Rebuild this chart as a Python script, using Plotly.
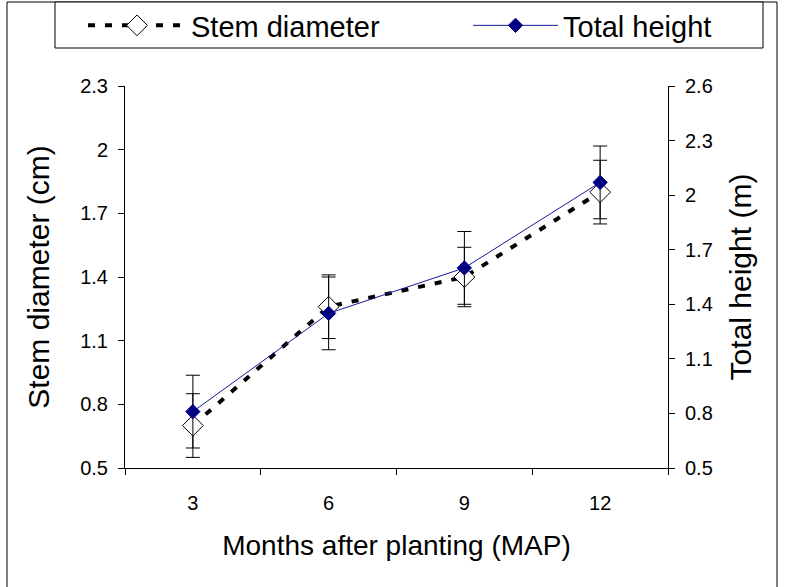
import plotly.graph_objects as go

# ---- data ----
months = ["3", "6", "9", "12"]
stem_diameter = [0.70, 1.26, 1.40, 1.80]        # cm
stem_diameter_err = [0.15, 0.15, 0.14, 0.15]
total_height = [0.81, 1.35, 1.60, 2.07]         # m
total_height_err = [0.20, 0.20, 0.20, 0.20]
left_ticks = [0.5, 0.8, 1.1, 1.4, 1.7, 2.0, 2.3]
left_ticktext = ["0.5", "0.8", "1.1", "1.4", "1.7", "2", "2.3"]
right_ticks = [0.5, 0.8, 1.1, 1.4, 1.7, 2.0, 2.3, 2.6]
right_ticktext = ["0.5", "0.8", "1.1", "1.4", "1.7", "2", "2.3", "2.6"]

W, H = 787, 587
L, R, T, B = 125, 119, 86, 119
pw, ph = W - L - R, H - T - B

FONT = "Liberation Sans, Arial, sans-serif"

fig = go.Figure()
fig.add_trace(go.Scatter(
    x=months, y=stem_diameter, name="Stem diameter", yaxis="y",
    mode="lines+markers", legend="legend",
    line=dict(color="black", width=4, dash="7px,10px"),
    marker=dict(symbol="diamond", size=16, color="white",
                line=dict(color="black", width=1)),
    error_y=dict(type="data", array=stem_diameter_err, color="black",
                 thickness=1, width=7),
))
fig.add_trace(go.Scatter(
    x=months, y=total_height, name="Total height", yaxis="y2",
    mode="lines+markers", legend="legend2",
    line=dict(color="#1a1a9a", width=1),
    marker=dict(symbol="diamond", size=11, color="#000080",
                line=dict(color="#000080", width=1)),
    error_y=dict(type="data", array=total_height_err, color="black",
                 thickness=1, width=7),
))

def px2x(p):
    return (p - L) / pw

def px2y(p):
    return (H - B - p) / ph

# chart-area frame
fig.add_shape(type="rect", xref="paper", yref="paper",
              x0=px2x(7), x1=px2x(777), y0=px2y(600), y1=px2y(2),
              line=dict(color="black", width=1), fillcolor="rgba(0,0,0,0)",
              layer="below")
# legend box
fig.add_shape(type="rect", xref="paper", yref="paper",
              x0=px2x(55), x1=px2x(763), y0=px2y(48), y1=px2y(2),
              line=dict(color="black", width=1), fillcolor="white",
              layer="above")

leg_common = dict(orientation="h", xref="container", yref="container",
                  xanchor="left", y=1.0, yanchor="top",
                  borderwidth=0, bgcolor="rgba(0,0,0,0)",
                  font=dict(size=29, family=FONT, color="black"))

fig.update_layout(
    width=W, height=H,
    margin=dict(l=L, r=R, t=T, b=B, autoexpand=False),
    paper_bgcolor="white", plot_bgcolor="white",
    font=dict(family=FONT, color="black", size=20),
    showlegend=True,
    legend=dict(x=83 / W, itemwidth=98, **leg_common),
    legend2=dict(x=468 / W, itemwidth=85, **leg_common),
    xaxis=dict(type="category", range=[-0.5, 3.5], tickson="boundaries",
               ticks="outside", ticklen=6, tickcolor="black",
               showline=True, linecolor="black", linewidth=1,
               showgrid=False, zeroline=False, automargin=False,
               tickfont=dict(size=20), ticklabelstandoff=17,
               title=dict(text="Months after planting (MAP)",
                          font=dict(size=28), standoff=22)),
    yaxis=dict(range=[0.5, 2.3], tickmode="array", tickvals=left_ticks,
               ticktext=left_ticktext, ticks="outside", ticklen=6,
               tickcolor="black", showline=True, linecolor="black",
               linewidth=1, showgrid=False, zeroline=False, automargin=False,
               tickfont=dict(size=20), ticklabelstandoff=6,
               title=dict(text="Stem diameter (cm)", font=dict(size=30),
                          standoff=21)),
    yaxis2=dict(range=[0.5, 2.6], overlaying="y", side="right",
                tickmode="array", tickvals=right_ticks,
                ticktext=right_ticktext, ticks="outside", ticklen=6,
                tickcolor="black", showline=True, linecolor="black",
                linewidth=1, showgrid=False, zeroline=False, automargin=False,
                tickfont=dict(size=20), ticklabelstandoff=6,
                title=dict(text="Total height (m)", font=dict(size=30),
                           standoff=18)),
)

fig.write_html("out.html", config={"displayModeBar": False},
               post_script="document.body.style.margin='0px';")
